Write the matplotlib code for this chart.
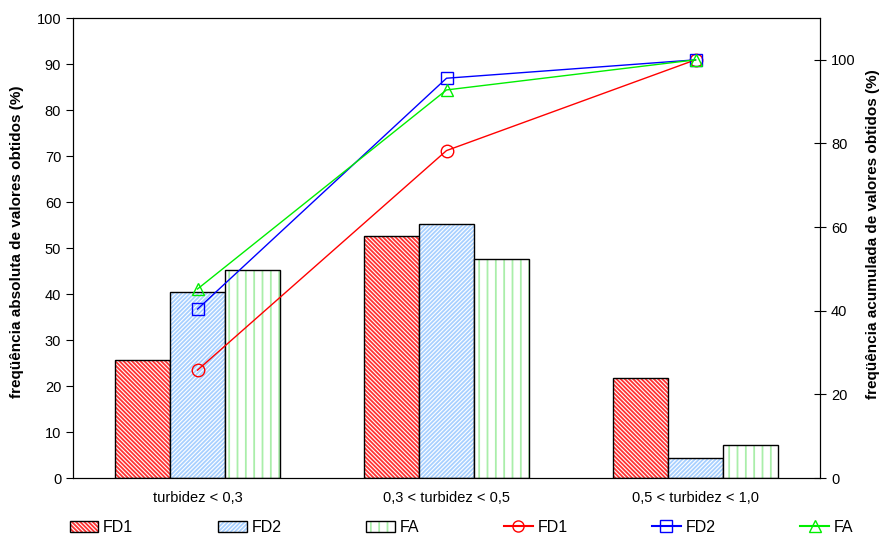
import numpy as np
import matplotlib.pyplot as plt
from matplotlib.lines import Line2D
from matplotlib.patches import Patch

plt.rcParams['font.family'] = ['Liberation Sans', 'DejaVu Sans']
plt.rcParams['hatch.linewidth'] = 1.3

categories = ['turbidez < 0,3', '0,3 < turbidez < 0,5', '0,5 < turbidez < 1,0']
series = ['FD1', 'FD2', 'FA']

# absolute frequency (%)
fd1_abs = [25.7, 52.6, 21.7]
fd2_abs = [40.4, 55.2, 4.4]
fa_abs = [45.2, 47.6, 7.2]

# cumulative frequency (%)
fd1_cum = [25.8, 78.3, 100.0]
fd2_cum = [40.4, 95.6, 100.0]
fa_cum = [45.2, 92.8, 100.0]

hatch_colors = ['#ff3333', '#a8d0ff', '#aaeeaa']
hatches = ['\\' * 8, '/' * 8, '||']
line_colors = ['#ff0000', '#0000ff', '#00ee00']
markers = ['o', 's', '^']

fig = plt.figure(figsize=(8.84, 5.44), dpi=100)
ax = fig.add_axes([0.0826, 0.1213, 0.845, 0.8456])
x = np.arange(len(categories))
w = 0.22

for i, vals in enumerate([fd1_abs, fd2_abs, fa_abs]):
    pos = x + (i - 1) * w
    ax.bar(pos, vals, w, color='white', edgecolor=hatch_colors[i],
           hatch=hatches[i], linewidth=0)
    ax.bar(pos, vals, w, fill=False, edgecolor='black', linewidth=1.0)

ax.set_xlim(-0.5, 2.5)
ax.set_ylim(0, 100)
ax.set_yticks(range(0, 101, 10))
ax.set_xticks(x)
ax.set_xticklabels(categories)
ax.tick_params(axis='x', length=0, pad=9, labelsize=10.5)
ax.tick_params(axis='y', direction='out', length=5, labelsize=10.5)
ax.set_ylabel('freqüência absoluta de valores obtidos (%)', fontweight='bold',
              fontsize=11)
ax.yaxis.set_label_coords(-0.0656, 0.513)

ax2 = ax.twinx()
for i, vals in enumerate([fd1_cum, fd2_cum, fa_cum]):
    ax2.plot(x, vals, color=line_colors[i], marker=markers[i],
             markerfacecolor='none', markeredgecolor=line_colors[i],
             markersize=9, linewidth=1.0)
ax2.set_ylim(0, 110)
ax2.set_yticks(range(0, 101, 20))
ax2.tick_params(axis='y', direction='inout', length=9, labelsize=10.5)
ax2.set_ylabel('freqüência acumulada de valores obtidos (%)', fontweight='bold',
               fontsize=11)
ax2.yaxis.set_label_coords(1.0616, 0.53)

handles = []
for i in range(3):
    h1 = Patch(facecolor='white', edgecolor=hatch_colors[i], hatch=hatches[i],
               linewidth=0)
    h2 = Patch(fill=False, edgecolor='black', linewidth=1.0)
    handles.append((h1, h2))
for i in range(3):
    handles.append(Line2D([0], [0], color=line_colors[i], marker=markers[i],
                          markerfacecolor='none', markersize=8))

fig.legend(handles=handles, labels=series * 2, loc='lower center', ncol=6,
           frameon=False, bbox_to_anchor=(0.522, -0.01), fontsize=11.5,
           columnspacing=5.3, handlelength=1.8, handleheight=0.7,
           handletextpad=0.3)

fig.savefig('out.png', dpi=100)
